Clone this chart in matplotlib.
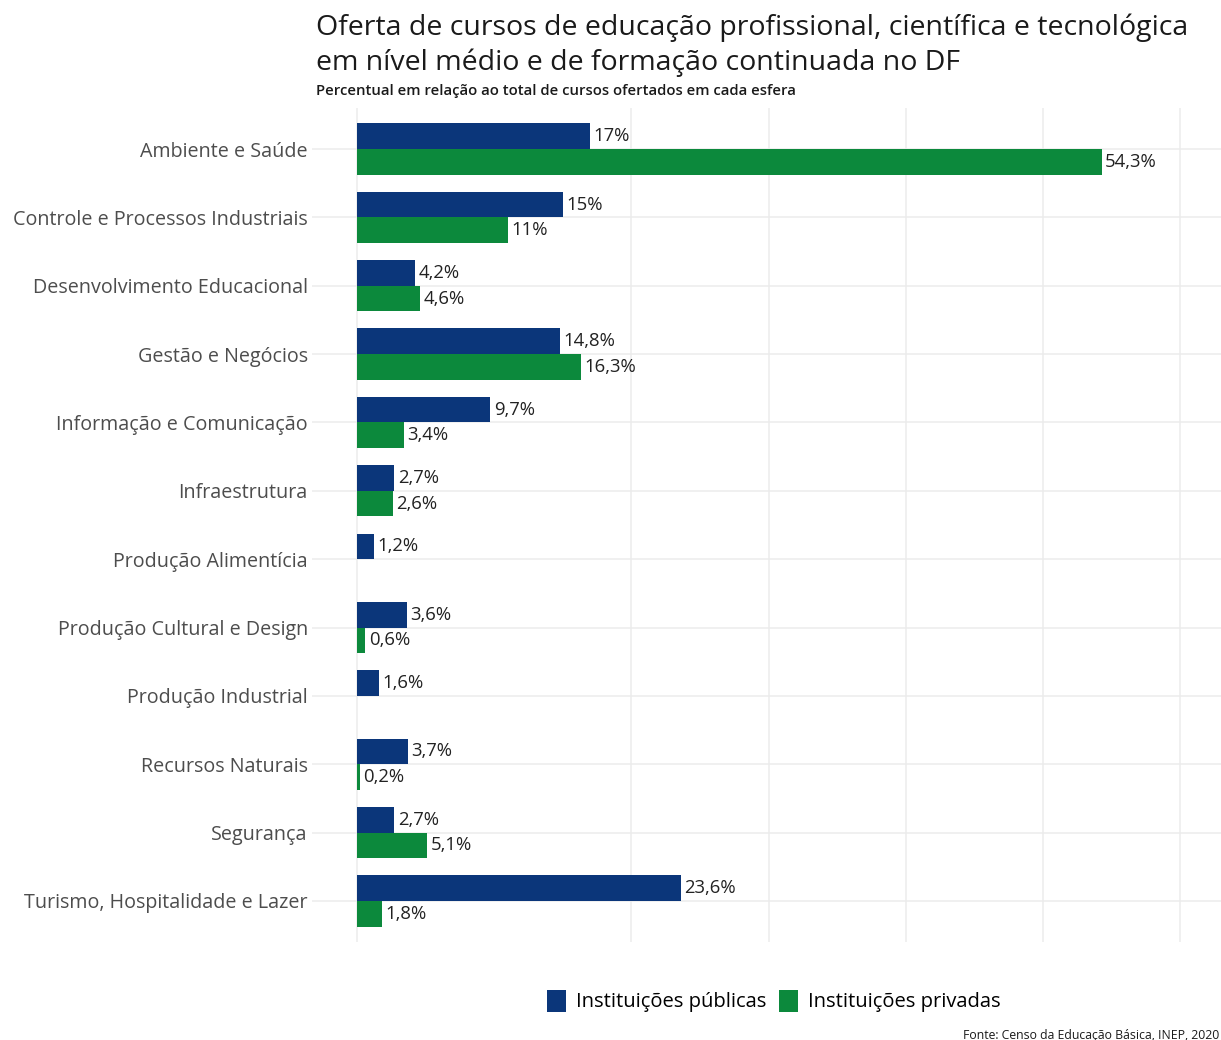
import matplotlib
matplotlib.use("Agg")
import matplotlib.pyplot as plt
from matplotlib.patches import Patch
import numpy as np

categorias = [
    "Ambiente e Saúde",
    "Controle e Processos Industriais",
    "Desenvolvimento Educacional",
    "Gestão e Negócios",
    "Informação e Comunicação",
    "Infraestrutura",
    "Produção Alimentícia",
    "Produção Cultural e Design",
    "Produção Industrial",
    "Recursos Naturais",
    "Segurança",
    "Turismo, Hospitalidade e Lazer",
]
publicas = [17, 15, 4.2, 14.8, 9.7, 2.7, 1.2, 3.6, 1.6, 3.7, 2.7, 23.6]
privadas = [54.3, 11, 4.6, 16.3, 3.4, 2.6, None, 0.6, None, 0.2, 5.1, 1.8]
series_nomes = ["Instituições públicas", "Instituições privadas"]

AZUL = "#0b367a"
VERDE = "#0c893c"
FONTE = ["Open Sans", "DejaVu Sans"]

plt.rcParams["font.family"] = FONTE

W, H = 1221, 1040
fig = plt.figure(figsize=(W / 100, H / 100), dpi=100)
fig.patch.set_facecolor("white")

left, right, top, bottom = 312, 1221, 108, 942
ax = fig.add_axes([left / W, 1 - bottom / H, (right - left) / W, (bottom - top) / H])
ax.set_facecolor("white")

n = len(categorias)
y = np.arange(n)
larg = 0.375

def rotulo(v):
    return f"{v:g}".replace(".", ",") + "%"

for serie, cor, desloc in [(publicas, AZUL, -larg / 2), (privadas, VERDE, larg / 2)]:
    for i, v in enumerate(serie):
        if v is None:
            continue
        ax.barh(y[i] + desloc, v, height=larg, color=cor, zorder=3)
        ax.text(v + 0.25, y[i] + desloc, rotulo(v), va="center", ha="left",
                fontsize=13.3, color="#222222", zorder=4)

ax.set_xlim(-3.3, 63.0)
ax.set_ylim(n - 0.4, -0.6)
ax.set_yticks(y)
ax.set_yticklabels(categorias, fontsize=14.2, color="#4d4d4d")
ax.tick_params(axis="y", length=0, pad=3)
ax.set_xticks([0, 20, 30, 40, 50, 60])
ax.tick_params(axis="x", length=0, labelbottom=False)
ax.grid(axis="both", color="#ececec", linewidth=1.1, zorder=0)
for s in ax.spines.values():
    s.set_visible(False)

fig.text(316 / W, 1 - 14 / H,
         "Oferta de cursos de educação profissional, científica e tecnológica\n"
         "em nível médio e de formação continuada no DF",
         ha="left", va="top", fontsize=20.5, color="#1a1a1a", linespacing=1.3)
fig.text(316 / W, 1 - 91 / H,
         "Percentual em relação ao total de cursos ofertados em cada esfera",
         ha="left", va="center", fontsize=10.7, color="#1a1a1a", fontweight="semibold")

handles = [Patch(facecolor=AZUL), Patch(facecolor=VERDE)]
fig.legend(handles, series_nomes, loc="center", bbox_to_anchor=(774 / W, 1 - 1001 / H),
           ncol=2, frameon=False, fontsize=14.5, handlelength=0.95, handleheight=1.3,
           handletextpad=0.5, columnspacing=0.6)

fig.text(1219 / W, 1 - 1035 / H, "Fonte: Censo da Educação Básica, INEP, 2020",
         ha="right", va="center", fontsize=8.8, color="#1a1a1a")

fig.savefig("out.png", dpi=100, facecolor="white")
